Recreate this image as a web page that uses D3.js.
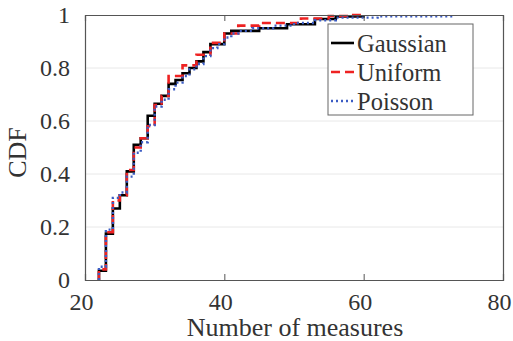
<!DOCTYPE html>
<html>
<head>
<meta charset="utf-8">
<script src="https://cdn.jsdelivr.net/npm/d3@7"></script>
<style>
  body { margin: 0; background: #fff; }
  text { font-family: "Liberation Serif", "DejaVu Serif", serif; fill: #333; }
</style>
</head>
<body>
<div id="chart"></div>
<script>
// CDF step values
const gaussX   = [22, 22, 23, 24, 25, 26, 27, 28, 29, 30, 31, 32, 33, 34, 35, 36, 37, 38, 40, 41, 45, 49, 53, 56, 60];
const gaussCdf = [0, 0.035, 0.175, 0.27, 0.32, 0.41, 0.51, 0.535, 0.62, 0.665, 0.695, 0.74, 0.755, 0.78, 0.80, 0.825, 0.86, 0.89, 0.93, 0.94, 0.95, 0.965, 0.985, 0.995, 1.0];

const unifX   = [22, 22, 23, 24, 25, 26, 27, 28, 29, 30, 31, 32, 34, 36, 38, 40, 42, 45, 51, 55, 58, 60];
const unifCdf = [0, 0.04, 0.18, 0.30, 0.32, 0.415, 0.50, 0.535, 0.58, 0.66, 0.695, 0.77, 0.81, 0.85, 0.895, 0.93, 0.96, 0.97, 0.987, 0.996, 1.0, 1.0];

const poisX   = [22, 22, 23, 24, 25, 26, 27, 28, 29, 30, 31, 32, 33, 34, 35, 36, 37, 38, 39, 40, 41, 42, 44, 47, 50, 53, 56, 62, 73];
const poisCdf = [0, 0.05, 0.19, 0.31, 0.33, 0.39, 0.48, 0.52, 0.585, 0.655, 0.68, 0.72, 0.745, 0.77, 0.795, 0.815, 0.845, 0.875, 0.89, 0.915, 0.93, 0.94, 0.95, 0.96, 0.97, 0.98, 0.99, 0.995, 1.0];

const xTicks = [20, 40, 60, 80];
const yTicks = [0, 0.2, 0.4, 0.6, 0.8, 1];
const seriesNames = ["Gaussian", "Uniform", "Poisson"];

const width = 513, height = 341;
const margin = { top: 15, right: 10, bottom: 61, left: 85 };

const svg = d3.select("#chart").append("svg")
  .attr("width", width)
  .attr("height", height);

const x = d3.scaleLinear().domain([20, 80]).range([margin.left, width - margin.right]);
const y = d3.scaleLinear().domain([0, 1]).range([height - margin.bottom, margin.top]);

// grid lines
svg.append("g")
  .selectAll("line").data(yTicks.slice(1, -1)).join("line")
  .attr("x1", x(20)).attr("x2", x(80))
  .attr("y1", d => y(d)).attr("y2", d => y(d))
  .attr("stroke", "#e8e8e8").attr("stroke-width", 1);

// series
const series = [
  { name: seriesNames[0], xs: gaussX, ys: gaussCdf, color: "#000000", dash: null, w: 2.6 },
  { name: seriesNames[1], xs: unifX, ys: unifCdf, color: "#ee2222", dash: "9,5", w: 2.6 },
  { name: seriesNames[2], xs: poisX, ys: poisCdf, color: "#3b5cc4", dash: "2,3", w: 2.4 }
];

const line = d3.line().curve(d3.curveStepAfter);

svg.append("g")
  .selectAll("path").data(series).join("path")
  .attr("d", s => line(s.xs.map((v, i) => [x(v), y(s.ys[i])])))
  .attr("fill", "none")
  .attr("stroke", s => s.color)
  .attr("stroke-width", s => s.w)
  .attr("stroke-dasharray", s => s.dash);

// axes box
const axisColor = "#555";
const xAxis = svg.append("g")
  .attr("transform", `translate(0,${y(0)})`)
  .call(d3.axisBottom(x).tickValues(xTicks).tickSize(-6).tickPadding(13).tickFormat(d3.format("d")));
const xTop = svg.append("g")
  .attr("transform", `translate(0,${y(1)})`)
  .call(d3.axisTop(x).tickValues(xTicks).tickSize(-6).tickFormat(""));
const yAxis = svg.append("g")
  .attr("transform", `translate(${x(20)},0)`)
  .call(d3.axisLeft(y).tickValues(yTicks).tickSize(0).tickPadding(15).tickFormat(d => d === 0 || d === 1 ? d3.format("d")(d) : d3.format(".1f")(d)));
const yRight = svg.append("g")
  .attr("transform", `translate(${x(80)},0)`)
  .call(d3.axisRight(y).tickValues(yTicks).tickSize(0).tickFormat(""));

[xAxis, xTop, yAxis, yRight].forEach(g => {
  g.select(".domain").attr("stroke", axisColor).attr("stroke-width", 1.2);
  g.selectAll(".tick line").attr("stroke", axisColor).attr("stroke-width", 1);
  g.selectAll(".tick text").attr("fill", "#333")
    .style("font-family", "'Liberation Serif', serif").style("font-size", "24px");
});
xAxis.selectAll(".tick text").attr("dx", -4);

// axis labels
svg.append("text")
  .attr("x", (x(20) + x(80)) / 2 + 1).attr("y", 336)
  .attr("text-anchor", "middle")
  .style("font-size", "26px")
  .text("Number of measures");

svg.append("text")
  .attr("transform", `translate(26,${(y(0) + y(1)) / 2 + 5}) rotate(-90)`)
  .attr("text-anchor", "middle")
  .style("font-size", "26px")
  .text("CDF");

// legend
const legend = svg.append("g").attr("transform", "translate(328,24)");
legend.append("rect")
  .attr("width", 145).attr("height", 91)
  .attr("fill", "#fff").attr("stroke", "#666").attr("stroke-width", 1);

const rows = legend.selectAll("g").data(series).join("g")
  .attr("transform", (d, i) => `translate(0,${19 + i * 29})`);
rows.append("line")
  .attr("x1", 3).attr("x2", 26)
  .attr("stroke", d => d.color)
  .attr("stroke-width", d => d.w)
  .attr("stroke-dasharray", d => d.dash);
rows.append("text")
  .attr("x", 29).attr("dy", "0.35em")
  .style("font-size", "24.5px")
  .text(d => d.name);
</script>
</body>
</html>
